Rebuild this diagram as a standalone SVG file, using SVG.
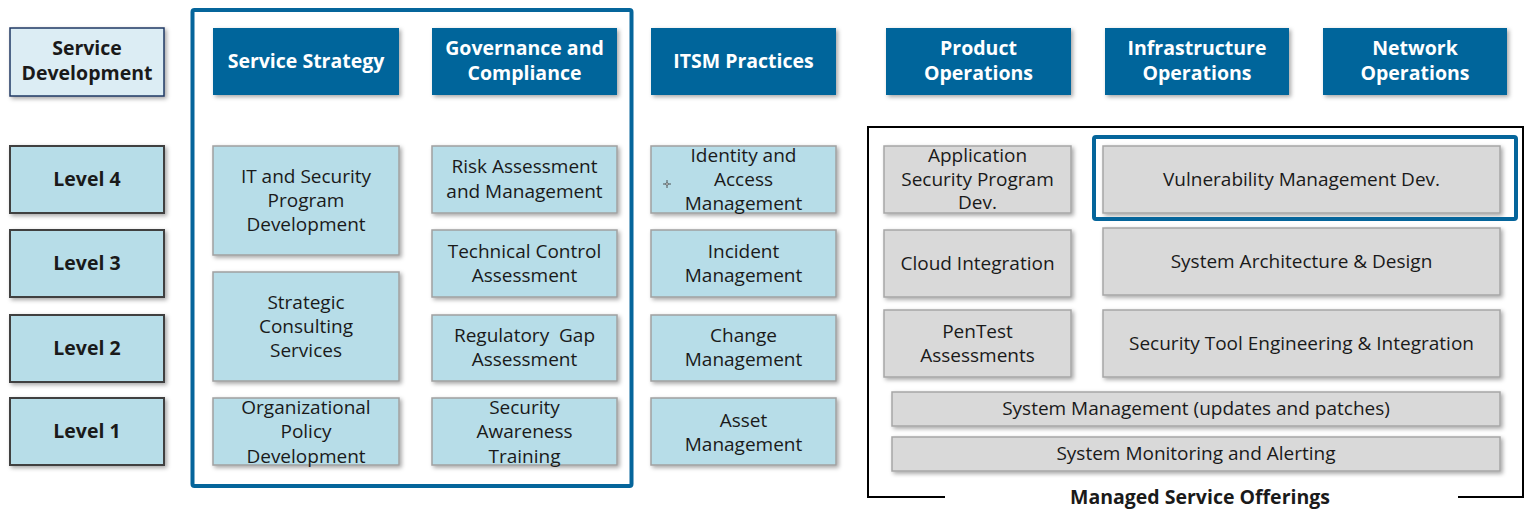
<svg xmlns="http://www.w3.org/2000/svg" width="1526" height="510" viewBox="0 0 1526 510">
<defs>
<filter id="sh" x="-10%" y="-10%" width="125%" height="130%">
<feDropShadow dx="2" dy="2" stdDeviation="2" flood-color="#000" flood-opacity="0.35"/>
</filter>
<style>
text{font-family:"Open Sans","Noto Sans",sans-serif;font-size:19px;fill:#1a1a1a;text-anchor:middle}
.b{font-weight:bold;font-size:19.5px}
.w{fill:#fff;font-weight:bold;font-size:19.5px}
.hd{fill:#05659b;filter:url(#sh)}
.lv{fill:#b7dde8;stroke:#404040;stroke-width:2;filter:url(#sh)}
.sd{fill:#dcedf4;stroke:#1f3864;stroke-width:1.5;filter:url(#sh)}
.cb{fill:#b7dde8;stroke:#a0a0a0;stroke-width:1.5;filter:url(#sh)}
.gb{fill:#d9d9d9;stroke:#a6a6a6;stroke-width:1.5;filter:url(#sh)}
.fr{fill:none;stroke:#05659b;stroke-width:4}
</style>
</defs>
<g id="frames">
<rect class="fr" x="192.5" y="10" width="439" height="476" rx="2"/>
<path d="M945 497 H868 V127 H1523 V497 H1458" fill="none" stroke="#000" stroke-width="2"/>
<text class="b" x="1200" y="504">Managed Service Offerings</text>
</g>
<g id="service-development"><rect class="sd" x="10" y="28" width="154" height="68"/><text class="b"><tspan x="87" y="55">Service</tspan><tspan x="87" y="80">Development</tspan></text></g>
<g id="level4"><rect class="lv" x="10" y="146" width="154" height="67"/><text class="b" x="87" y="186">Level 4</text></g>
<g id="level3"><rect class="lv" x="10" y="230" width="154" height="67"/><text class="b" x="87" y="270">Level 3</text></g>
<g id="level2"><rect class="lv" x="10" y="315" width="154" height="67"/><text class="b" x="87" y="355">Level 2</text></g>
<g id="level1"><rect class="lv" x="10" y="398" width="154" height="67"/><text class="b" x="87" y="438">Level 1</text></g>

<g id="h-service-strategy"><rect class="hd" x="213" y="28" width="186" height="67"/><text class="w" x="306" y="68">Service Strategy</text></g>
<g id="h-governance"><rect class="hd" x="432" y="28" width="185" height="67"/><text class="w"><tspan x="524.5" y="55">Governance and</tspan><tspan x="524.5" y="80">Compliance</tspan></text></g>
<g id="h-itsm"><rect class="hd" x="651" y="28" width="185" height="67"/><text class="w" x="743.5" y="68">ITSM Practices</text></g>
<g id="h-product"><rect class="hd" x="886" y="28" width="185" height="67"/><text class="w"><tspan x="978.5" y="55">Product</tspan><tspan x="978.5" y="80">Operations</tspan></text></g>
<g id="h-infra"><rect class="hd" x="1105" y="28" width="184" height="67"/><text class="w"><tspan x="1197" y="55">Infrastructure</tspan><tspan x="1197" y="80">Operations</tspan></text></g>
<g id="h-network"><rect class="hd" x="1323" y="28" width="184" height="67"/><text class="w"><tspan x="1415" y="55">Network</tspan><tspan x="1415" y="80">Operations</tspan></text></g>

<g id="it-security"><rect class="cb" x="213" y="146" width="186" height="109"/><text><tspan x="306" y="183">IT and Security</tspan><tspan x="306" y="207">Program</tspan><tspan x="306" y="231">Development</tspan></text></g>
<g id="strategic"><rect class="cb" x="213" y="272" width="186" height="109"/><text><tspan x="306" y="309">Strategic</tspan><tspan x="306" y="333">Consulting</tspan><tspan x="306" y="357">Services</tspan></text></g>
<g id="org-policy"><rect class="cb" x="213" y="398" width="186" height="67"/><text><tspan x="306" y="414">Organizational</tspan><tspan x="306" y="438">Policy</tspan><tspan x="306" y="463">Development</tspan></text></g>

<g id="risk"><rect class="cb" x="432" y="146" width="185" height="67"/><text><tspan x="524.5" y="173">Risk Assessment</tspan><tspan x="524.5" y="198">and Management</tspan></text></g>
<g id="technical"><rect class="cb" x="432" y="230" width="185" height="67"/><text><tspan x="524.5" y="258">Technical Control</tspan><tspan x="524.5" y="282">Assessment</tspan></text></g>
<g id="regulatory"><rect class="cb" x="432" y="315" width="185" height="66"/><text><tspan x="524.5" y="342" xml:space="preserve">Regulatory  Gap</tspan><tspan x="524.5" y="366">Assessment</tspan></text></g>
<g id="awareness"><rect class="cb" x="432" y="398" width="185" height="67"/><text><tspan x="524.5" y="414">Security</tspan><tspan x="524.5" y="438">Awareness</tspan><tspan x="524.5" y="463">Training</tspan></text></g>

<g id="identity"><rect class="cb" x="651" y="146" width="185" height="67"/><text><tspan x="743.5" y="162">Identity and</tspan><tspan x="743.5" y="186">Access</tspan><tspan x="743.5" y="210">Management</tspan></text><path d="M667 180 V188 M663 184 H671" stroke="#333" stroke-width="0.8"/><circle cx="667" cy="184" r="1.2" fill="#fff" stroke="#333" stroke-width="0.6"/></g>
<g id="incident"><rect class="cb" x="651" y="230" width="185" height="67"/><text><tspan x="743.5" y="258">Incident</tspan><tspan x="743.5" y="282">Management</tspan></text></g>
<g id="change"><rect class="cb" x="651" y="315" width="185" height="66"/><text><tspan x="743.5" y="342">Change</tspan><tspan x="743.5" y="366">Management</tspan></text></g>
<g id="asset"><rect class="cb" x="651" y="398" width="185" height="67"/><text><tspan x="743.5" y="427">Asset</tspan><tspan x="743.5" y="451">Management</tspan></text></g>

<g id="appsec"><rect class="gb" x="884" y="146" width="187" height="67"/><text><tspan x="977.5" y="162">Application</tspan><tspan x="977.5" y="186">Security Program</tspan><tspan x="977.5" y="209">Dev.</tspan></text></g>
<g id="vuln"><rect class="gb" x="1103" y="146" width="397" height="67"/><rect class="fr" x="1094" y="137" width="422" height="82" rx="2"/><text x="1301.5" y="186">Vulnerability Management Dev.</text></g>
<g id="cloud"><rect class="gb" x="884" y="230" width="187" height="67"/><text x="977.5" y="270">Cloud Integration</text></g>
<g id="sysarch"><rect class="gb" x="1103" y="228" width="397" height="67"/><text x="1301.5" y="268">System Architecture &amp; Design</text></g>
<g id="pentest"><rect class="gb" x="884" y="310" width="187" height="67"/><text><tspan x="977.5" y="338">PenTest</tspan><tspan x="977.5" y="362">Assessments</tspan></text></g>
<g id="sectool"><rect class="gb" x="1103" y="310" width="397" height="67"/><text x="1301.5" y="350">Security Tool Engineering &amp; Integration</text></g>
<g id="sysmgmt"><rect class="gb" x="892" y="392" width="608" height="34"/><text x="1196" y="415">System Management (updates and patches)</text></g>
<g id="sysmon"><rect class="gb" x="892" y="437" width="608" height="34"/><text x="1196" y="460">System Monitoring and Alerting</text></g>
<g id="connectors"/>
</svg>
